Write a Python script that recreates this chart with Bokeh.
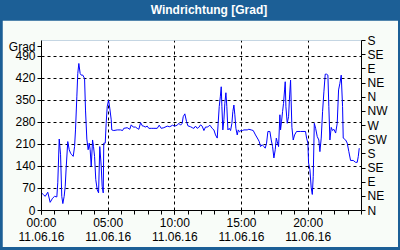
from bokeh.plotting import figure
from bokeh.models import (Range1d, LinearAxis, FixedTicker, Div, Spacer)
from bokeh.layouts import column, row
from bokeh.embed import file_html
from bokeh.resources import INLINE

title_text = "Windrichtung [Grad]"
unit_label = "Grad"
date_label = "11.06.16"

hours = [0.00, 0.15, 0.28, 0.47, 0.65, 0.83, 0.98, 1.15, 1.22, 1.33, 1.43, 1.52, 1.60, 1.70, 1.78,
         1.85, 1.97, 2.08, 2.18, 2.27, 2.38, 2.48, 2.55, 2.65, 2.72, 2.80, 2.90, 2.98, 3.10, 3.23,
         3.30, 3.40, 3.50, 3.58, 3.65, 3.73, 3.83, 3.90, 3.98, 4.07, 4.18, 4.28, 4.37, 4.48, 4.55,
         4.63, 4.67, 4.78, 4.85, 4.93, 5.03, 5.12, 5.23, 5.27, 5.42, 5.68, 5.93, 6.08, 6.17, 6.43,
         6.62, 6.73, 6.88, 7.05, 7.18, 7.30, 7.43, 7.58, 7.67, 7.78, 7.93, 8.05, 8.23, 8.43, 8.68,
         8.83, 8.98, 9.17, 9.43, 9.62, 9.83, 9.98, 10.18, 10.30, 10.43, 10.55, 10.63, 10.75, 10.88,
         10.98, 11.18, 11.31, 11.43, 11.55, 11.68, 11.80, 11.93, 12.05, 12.18, 12.30, 12.43, 12.55,
         12.63, 12.80, 12.93, 13.05, 13.18, 13.25, 13.33, 13.41, 13.48, 13.53, 13.60, 13.68, 13.75,
         13.83, 13.90, 13.98, 14.08, 14.18, 14.28, 14.35, 14.43, 14.50, 14.58, 14.68, 14.76, 14.85,
         14.95, 15.08, 15.18, 15.43, 15.55, 15.73, 15.88, 16.05, 16.23, 16.33, 16.43, 16.55, 16.68,
         16.78, 16.88, 16.98, 17.13, 17.23, 17.33, 17.43, 17.53, 17.61, 17.68, 17.78, 17.88, 17.93,
         18.00, 18.08, 18.15, 18.23, 18.28, 18.33, 18.43, 18.53, 18.61, 18.68, 18.78, 18.88, 18.98,
         19.13, 19.43, 19.80, 19.88, 19.98, 20.03, 20.13, 20.23, 20.31, 20.38, 20.46, 20.56, 20.68,
         20.80, 20.88, 20.98, 21.08, 21.18, 21.28, 21.38, 21.48, 21.55, 21.63, 21.73, 21.83, 21.93,
         22.06, 22.18, 22.28, 22.38, 22.48, 22.58, 22.63, 22.81, 22.93, 23.05, 23.18, 23.38, 23.56,
         23.68, 23.76, 23.83]

degrees = [56, 50, 45, 58, 26, 39, 45, 43, 88, 227, 177, 45, 22, 45, 77,
           135, 219, 193, 182, 177, 172, 203, 256, 361, 435, 467, 435, 430, 430, 419,
           319, 227, 193, 214, 193, 140, 224, 203, 172, 98, 66, 56, 203, 140, 77,
           56, 214, 214, 277, 330, 351, 325, 288, 256, 254, 256, 256, 254, 261, 263,
           258, 272, 265, 265, 261, 258, 279, 268, 268, 265, 268, 261, 261, 261, 261,
           271, 261, 263, 268, 266, 271, 268, 271, 277, 271, 277, 298, 307, 282,
           269, 266, 263, 261, 268, 261, 264, 272, 268, 254, 265, 265, 268,
           271, 261, 256, 240, 230, 277, 330, 361, 393, 330, 256, 288, 340,
           374, 330, 256, 261, 254, 277, 314, 335, 304, 261, 240, 256, 250,
           254, 254, 256, 256, 258, 256, 254, 240, 227, 219, 203, 209, 203,
           198, 214, 251, 251, 224, 203, 167, 193, 230, 219, 203, 304, 256,
           282, 314, 340, 383, 409, 330, 277, 298, 367, 414, 264, 224, 240,
           251, 251, 251, 230, 214, 151, 130, 72, 51, 108, 277, 261, 235,
           224, 187, 230, 314, 377, 433, 433, 430, 330, 224, 264, 254, 258,
           246, 277, 383, 404, 430, 330, 230, 224, 214, 187, 159, 159, 153,
           153, 172, 198]

left_ticks = [0, 70, 140, 210, 280, 350, 420, 490]
unit_tick = 520
right_ticks = [0, 45, 90, 135, 180, 225, 270, 315, 360, 405, 450, 495, 540]
right_labels = ["N", "NE", "E", "SE", "S", "SW", "W", "NW", "N", "NE", "E", "SE", "S"]
x_ticks = [0, 5, 10, 15, 20]
x_labels = ["00:00", "05:00", "10:00", "15:00", "20:00"]
x_minor = list(range(0, 25))

FONT = "Liberation Sans"
BLUE = "#1c5f96"
OFF = "#f8fcf8"

p = figure(width=396, height=227, output_backend="svg", toolbar_location=None,
           x_range=Range1d(0, 24), y_range=Range1d(0, 540),
           min_border_left=39, min_border_right=37, min_border_top=20, min_border_bottom=36,
           background_fill_color="white", border_fill_color=OFF,
           x_axis_location="below", y_axis_location="left")
p.outline_line_color = None

p.line(hours, degrees, line_color="#0000ff", line_width=1)

# axes
xa = p.xaxis[0]
xa.ticker = FixedTicker(ticks=x_ticks, minor_ticks=x_minor)
xa.major_label_overrides = {t: f"{l}\n{date_label}" for t, l in zip(x_ticks, x_labels)}
ya = p.yaxis[0]
ya.ticker = FixedTicker(ticks=left_ticks + [unit_tick])
ya.major_label_overrides = {unit_tick: unit_label}

ra = LinearAxis(ticker=FixedTicker(ticks=right_ticks),
                major_label_overrides={t: l for t, l in zip(right_ticks, right_labels)})
p.add_layout(ra, "right")

for ax in [xa, ya, ra]:
    ax.axis_line_color = "black"
    ax.major_tick_line_color = "black"
    ax.minor_tick_line_color = "black"
    ax.major_tick_in = 0
    ax.major_tick_out = 4
    ax.minor_tick_in = 0
    ax.minor_tick_out = 4
    ax.major_label_text_font = FONT
    ax.major_label_text_font_size = "12px"
    ax.major_label_text_color = "black"
    ax.major_label_standoff = 2
ya.minor_tick_line_color = None
ra.minor_tick_line_color = None
xa.major_label_standoff = 1
xa.major_label_text_line_height = 1.05

p.ygrid[0].ticker = FixedTicker(ticks=left_ticks)
for g in [p.xgrid[0], p.ygrid[0]]:
    g.grid_line_color = "black"
    g.grid_line_dash = "3 3"
    g.grid_line_width = 1

title = Div(text=(f'<div style="width:400px;height:20px;box-sizing:border-box;'
                  f'padding-left:18px;text-align:center;line-height:20px;color:white;'
                  f'font-family:\'{FONT}\';font-weight:bold;font-size:12px;">{title_text}</div>'),
            width=400, height=20, styles={"background-color": BLUE, "margin": "0"})

layout = column(title,
                row(Spacer(width=2, height=227), p, Spacer(width=2, height=227)),
                Spacer(width=400, height=3),
                styles={"background-color": BLUE}, spacing=0)

open("out.html", "w").write(file_html(layout, INLINE))
